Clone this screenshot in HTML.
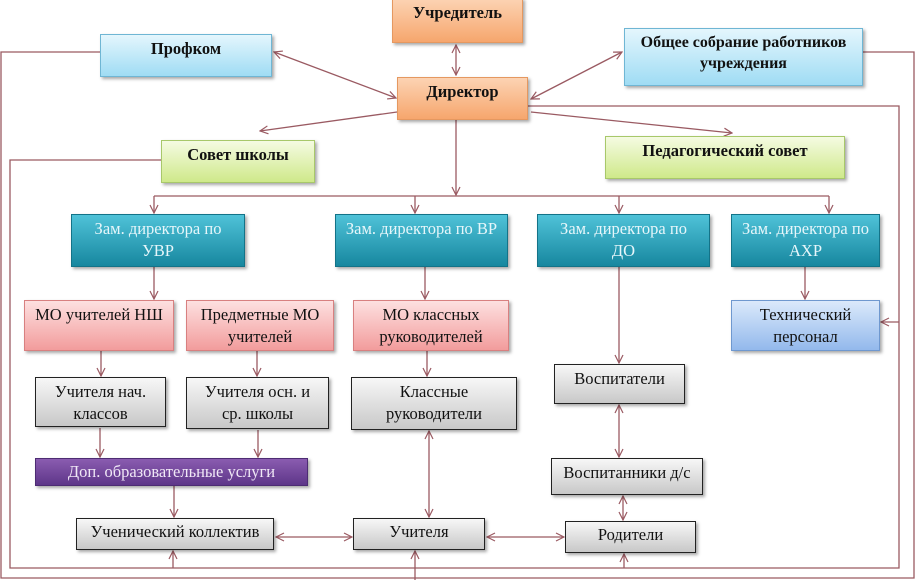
<!DOCTYPE html>
<html><head><meta charset="utf-8"><style>
body{margin:0;width:916px;height:580px;background:#fff;overflow:hidden;position:relative;font-family:"Liberation Serif",serif}
.b{position:absolute;box-sizing:border-box;text-align:center;box-shadow:2px 2px 3px rgba(0,0,0,.35);font-size:16.5px;line-height:22px;padding-top:3px;color:#111;white-space:nowrap}
.o{background:linear-gradient(#fcd3b3,#f6a66d);border:1px solid #e59860;font-weight:bold}
.lb{background:linear-gradient(#e4f6fd,#9fdcf4);border:1px solid #6fb6d4;font-weight:bold}
.g{background:linear-gradient(#f5fbe2,#cfe98a);border:1px solid #a8c86a;font-weight:bold}
.t{background:linear-gradient(#4fc2d8,#17879f);border:1px solid #137388;color:#e6f6fa}
.p{background:linear-gradient(#fde0e0,#f29c9c);border:1px solid #d88080}
.bl{background:linear-gradient(#dbe9fb,#93b9ec);border:1px solid #6f98cf}
.gr{background:linear-gradient(#f7f7f7,#c8c8c8);border:1.5px solid #222}
.v{background:linear-gradient(#8a5cb0,#5e3689);border:1px solid #4d2c73;color:#f0e8f6;line-height:26px;padding-top:0}
svg{position:absolute;left:0;top:0}
</style></head><body>
<svg width="916" height="580">
<defs><marker id="a" markerWidth="10" markerHeight="10" refX="9" refY="5" orient="auto-start-reverse" markerUnits="userSpaceOnUse"><path d="M1,1 L9,5 L1,9" fill="none" stroke="#9a5a62" stroke-width="1.2"/></marker></defs>
<g stroke="#9a5a62" stroke-width="1.3" fill="none">
<path d="M100,52 H1 V578 H914 V52 H863"/>
<path d="M161,160 H10 V568 H899 V106 H528"/>
<path d="M899,322 H881" marker-end="url(#a)"/>
<path d="M173,568 V551" marker-end="url(#a)"/>
<path d="M415,580 V551" marker-end="url(#a)"/>
<path d="M624,568 V554" marker-end="url(#a)"/>
<path d="M456,45 V75" marker-start="url(#a)" marker-end="url(#a)"/>
<path d="M274,52 L396,98" marker-start="url(#a)" marker-end="url(#a)"/>
<path d="M622,52 L531,99" marker-start="url(#a)" marker-end="url(#a)"/>
<path d="M397,112 L260,131" marker-end="url(#a)"/>
<path d="M531,112 L732,133" marker-end="url(#a)"/>
<path d="M456,120 V195" marker-end="url(#a)"/>
<path d="M154,196 H829"/>
<path d="M154,196 V213" marker-end="url(#a)"/>
<path d="M415,196 V213" marker-end="url(#a)"/>
<path d="M619,196 V213" marker-end="url(#a)"/>
<path d="M829,196 V213" marker-end="url(#a)"/>
<path d="M154,267 V299" marker-end="url(#a)"/>
<path d="M425,267 V299" marker-end="url(#a)"/>
<path d="M619,267 V363" marker-end="url(#a)"/>
<path d="M805,267 V299" marker-end="url(#a)"/>
<path d="M101,351 V376" marker-end="url(#a)"/>
<path d="M257,351 V376" marker-end="url(#a)"/>
<path d="M427,351 V376" marker-end="url(#a)"/>
<path d="M100,428 V457" marker-end="url(#a)"/>
<path d="M258,430 V457" marker-end="url(#a)"/>
<path d="M174,486 V517" marker-end="url(#a)"/>
<path d="M429,431 V517" marker-start="url(#a)" marker-end="url(#a)"/>
<path d="M619,405 V457" marker-start="url(#a)" marker-end="url(#a)"/>
<path d="M623,496 V520" marker-start="url(#a)" marker-end="url(#a)"/>
<path d="M276,537 H352" marker-start="url(#a)" marker-end="url(#a)"/>
<path d="M487,537 H564" marker-start="url(#a)" marker-end="url(#a)"/>
</g></svg>
<div class="b o" style="left:392px;top:-2px;width:131px;height:45px">Учредитель</div>
<div class="b lb" style="left:100px;top:34px;width:172px;height:43px">Профком</div>
<div class="b o" style="left:397px;top:77px;width:131px;height:43px">Директор</div>
<div class="b lb" style="left:624px;top:28px;width:239px;height:58px;line-height:21px;font-size:16px">Общее собрание работников<br>учреждения</div>
<div class="b g" style="left:161px;top:140px;width:154px;height:43px">Совет школы</div>
<div class="b g" style="left:605px;top:136px;width:240px;height:43px">Педагогический совет</div>
<div class="b t" style="left:71px;top:214px;width:174px;height:53px">Зам. директора по<br>УВР</div>
<div class="b t" style="left:335px;top:214px;width:173px;height:53px">Зам. директора по ВР</div>
<div class="b t" style="left:537px;top:214px;width:173px;height:53px">Зам. директора по<br>ДО</div>
<div class="b t" style="left:731px;top:214px;width:149px;height:53px">Зам. директора по<br>АХР</div>
<div class="b p" style="left:24px;top:300px;width:150px;height:51px">МО учителей НШ</div>
<div class="b p" style="left:186px;top:300px;width:148px;height:51px">Предметные МО<br>учителей</div>
<div class="b p" style="left:353px;top:300px;width:156px;height:51px">МО классных<br>руководителей</div>
<div class="b bl" style="left:731px;top:300px;width:149px;height:51px">Технический<br>персонал</div>
<div class="b gr" style="left:35px;top:377px;width:131px;height:50px">Учителя нач.<br>классов</div>
<div class="b gr" style="left:186px;top:377px;width:143px;height:52px">Учителя осн. и<br>ср. школы</div>
<div class="b gr" style="left:351px;top:377px;width:166px;height:53px">Классные<br>руководители</div>
<div class="b gr" style="left:554px;top:364px;width:131px;height:40px">Воспитатели</div>
<div class="b v" style="left:35px;top:458px;width:273px;height:28px">Доп. образовательные услуги</div>
<div class="b gr" style="left:551px;top:458px;width:152px;height:37px">Воспитанники д/с</div>
<div class="b gr" style="left:76px;top:518px;width:198px;height:32px;padding-top:2px">Ученический коллектив</div>
<div class="b gr" style="left:353px;top:518px;width:132px;height:32px;padding-top:2px">Учителя</div>
<div class="b gr" style="left:565px;top:521px;width:131px;height:32px;padding-top:2px">Родители</div>
</body></html>
